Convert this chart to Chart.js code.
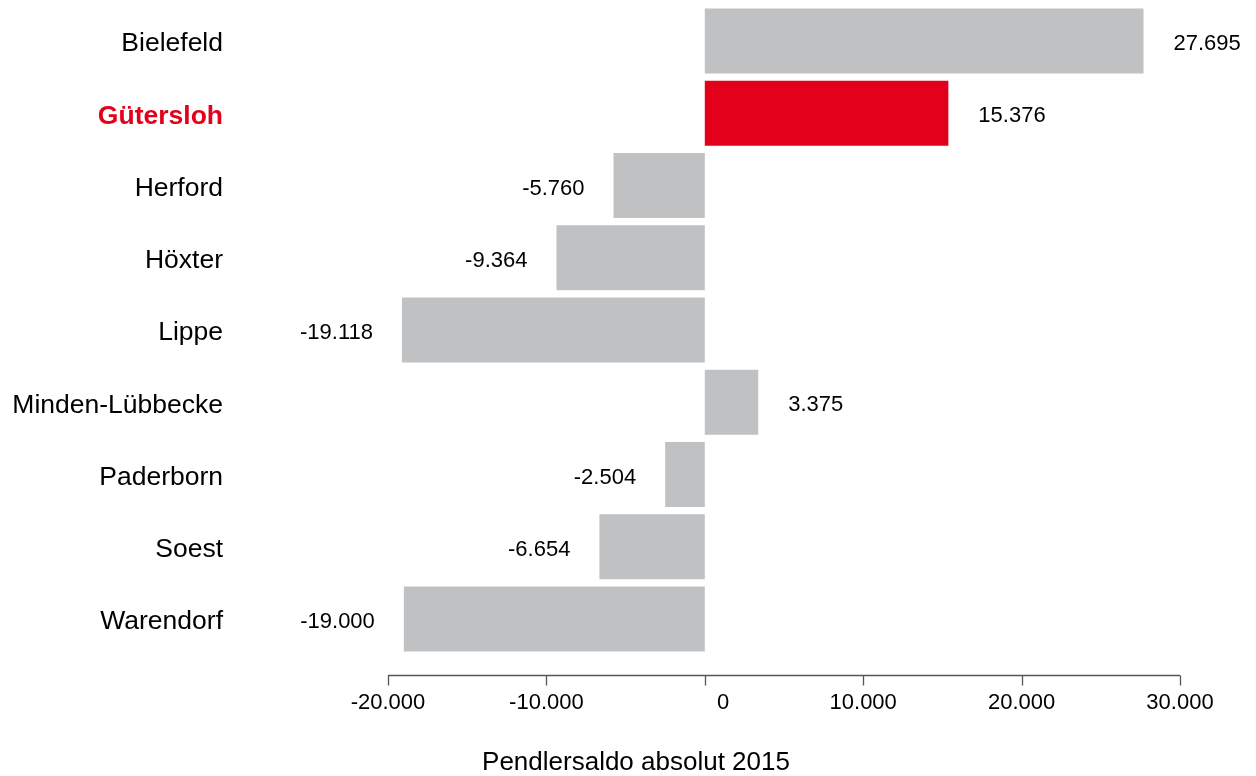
<!DOCTYPE html>
<html>
<head>
<meta charset="utf-8">
<script src="https://cdn.jsdelivr.net/npm/chart.js@4"></script>
<style>
html,body{margin:0;padding:0;background:#fff;}
#wrap{width:1256px;height:776px;position:relative;}
</style>
</head>
<body>
<div id="wrap"><canvas id="c"></canvas></div>
<script>
const categories = ["Bielefeld","Gütersloh","Herford","Höxter","Lippe","Minden-Lübbecke","Paderborn","Soest","Warendorf"];
const values = [27695, 15376, -5760, -9364, -19118, 3375, -2504, -6654, -19000];
const highlight = "Gütersloh";
const axisTitle = "Pendlersaldo absolut 2015";
const xMin = -20000, xMax = 30000, xStep = 10000;

const GRAY = "#c0c1c3", RED = "#e2001a";
const FONT = "'Liberation Sans', Arial, sans-serif";

function fmt(v){
  const s = Math.abs(Math.round(v)).toString().replace(/\B(?=(\d{3})+(?!\d))/g, ".");
  return (v < 0 ? "-" : "") + s;
}

const overlay = {
  id: "overlay",
  afterDraw(chart){
    const ctx = chart.ctx, xs = chart.scales.x;
    const meta = chart.getDatasetMeta(0);
    ctx.save();
    // data labels
    ctx.font = "22px " + FONT;
    ctx.fillStyle = "#000";
    ctx.textBaseline = "middle";
    meta.data.forEach((bar, i) => {
      const v = values[i];
      const end = xs.getPixelForValue(v);
      if (v >= 0){ ctx.textAlign = "left"; ctx.fillText(fmt(v), end + 30, bar.y + 3); }
      else { ctx.textAlign = "right"; ctx.fillText(fmt(v), end - 29, bar.y + 3); }
    });
    // axis line and ticks
    const ay = chart.chartArea.bottom + 20.5;
    ctx.strokeStyle = "#555";
    ctx.lineWidth = 1.3;
    ctx.beginPath();
    ctx.moveTo(xs.getPixelForValue(xMin), ay);
    ctx.lineTo(xs.getPixelForValue(xMax), ay);
    xs.ticks.forEach(t => {
      const px = Math.round(xs.getPixelForValue(t.value)) + 0.5;
      ctx.moveTo(px, ay);
      ctx.lineTo(px, ay + 10);
    });
    ctx.stroke();
    // axis title
    ctx.font = "26px " + FONT;
    ctx.textAlign = "center";
    ctx.textBaseline = "middle";
    ctx.fillText(axisTitle, chart.width / 2 + 8, 763);
    ctx.restore();
  }
};

new Chart(document.getElementById("c"), {
  type: "bar",
  data: {
    labels: categories,
    datasets: [{
      data: values,
      backgroundColor: categories.map(c => c === highlight ? RED : GRAY),
      borderWidth: 0,
      barPercentage: 0.9,
      categoryPercentage: 1.0
    }]
  },
  options: {
    indexAxis: "y",
    responsive: true,
    maintainAspectRatio: false,
    animation: false,
    devicePixelRatio: 1,
    layout: { padding: { left: 10, right: 76, top: 5, bottom: 0 } },
    plugins: { legend: { display: false }, tooltip: { enabled: false }, title: { display: false } },
    scales: {
      x: {
        type: "linear",
        min: xMin, max: xMax,
        grid: { display: false, drawTicks: false },
        border: { display: false },
        afterFit(s){ s.height = 121; s.paddingLeft = 0; s.paddingRight = 0; },
        ticks: {
          stepSize: xStep,
          padding: 35,
          color: "#000",
          font: { family: FONT, size: 22 },
          callback: v => v === 0 ? "      0" : fmt(v)
        }
      },
      y: {
        grid: { display: false, drawTicks: false },
        border: { display: false },
        afterFit(s){ s.width = 378; s.paddingTop = 0; s.paddingBottom = 0; },
        ticks: {
          padding: 165,
          labelOffset: 3,
          color: ctx => categories[ctx.index] === highlight ? RED : "#000",
          font: ctx => ({ family: FONT, size: 26.5, weight: categories[ctx.index] === highlight ? "bold" : "normal" })
        }
      }
    }
  },
  plugins: [overlay]
});
</script>
</body>
</html>
